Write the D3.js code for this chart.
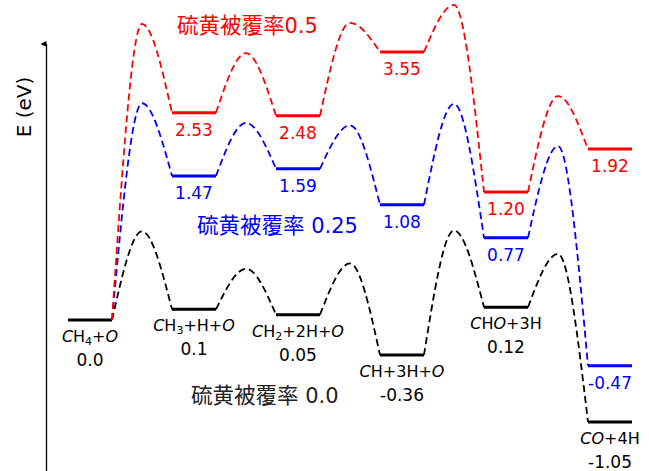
<!DOCTYPE html>
<html><head><meta charset="utf-8">
<script src="https://cdn.jsdelivr.net/npm/d3@7"></script>
<style>
html,body{margin:0;padding:0;background:#fff;}
svg{display:block;}
</style></head>
<body>
<svg id="chart" width="649" height="471"></svg>
<script>
// ---------- data ----------
const steps = ["CH4+O", "CH3+H+O", "CH2+2H+O", "CH+3H+O", "CHO+3H", "CO+4H"];
// intermediate energies (eV)
const black = [0.0, 0.1, 0.05, -0.36, 0.12, -1.05];
const blue  = [0.0, 1.47, 1.59, 1.08, 0.77, -0.47];
const red   = [0.0, 2.53, 2.48, 3.55, 1.20, 1.92];
// transition-state energies (eV)
const blackTS = [0.83, 0.48, 0.53, 0.84, 0.62];
const blueTS  = [2.69, 2.36, 2.32, 2.68, 1.97];
const redTS   = [4.02, 3.53, 4.04, 4.34, 2.81];
// printed labels
const blackLabels = ["0.0", "0.1", "0.05", "-0.36", "0.12", "-1.05"];
const blueLabels  = ["", "1.47", "1.59", "1.08", "0.77", "-0.47"];
const redLabels   = ["", "2.53", "2.48", "3.55", "1.20", "1.92"];
const seriesTitles = ["硫黄被覆率 0.0", "硫黄被覆率 0.25", "硫黄被覆率0.5"];

// ---------- layout ----------
const svg = d3.select("#chart");
const x = d3.scalePoint().domain(steps).range([90, 610]);
// schematic (not-to-scale) energy axis
const y = d3.scaleLinear().domain([-1.05, 0, 1.2, 3.55]).range([422, 320, 192, 52]);
const half = 22;
const numFont = "'DejaVu Sans', Verdana, sans-serif";
const cjkFont = "'Noto Sans CJK JP', 'Noto Sans CJK SC', sans-serif";

// y axis with arrow
svg.append("defs").append("marker")
  .attr("id", "arrow").attr("viewBox", "0 0 10 10")
  .attr("refX", 5).attr("refY", 10)
  .attr("markerWidth", 6).attr("markerHeight", 9)
  .attr("markerUnits", "userSpaceOnUse").attr("orient", "auto-start-reverse")
  .append("path").attr("d", "M0,10 L5,0 L10,10 Z").attr("fill", "#000");
const yAxisScale = d3.scaleLinear().domain([0, 1]).range([471, 44]);
svg.append("line")
  .attr("x1", 46.5).attr("x2", 46.5)
  .attr("y1", yAxisScale(0)).attr("y2", yAxisScale(1))
  .attr("stroke", "#000").attr("stroke-width", 1.3)
  .attr("marker-end", "url(#arrow)");
svg.append("text")
  .attr("transform", "translate(31,107) rotate(-90)")
  .attr("text-anchor", "middle")
  .attr("font-family", numFont).attr("font-size", 20)
  .attr("fill", "#000").text("E (eV)");

const line = d3.line().x(d => d[0]).y(d => d[1]).curve(d3.curveMonotoneX);

function drawSeries(vals, ts, color, labels, startIdx) {
  const g = svg.append("g");
  // dashed connectors
  for (let i = 0; i < vals.length - 1; i++) {
    const x0 = x(steps[i]) + half, x1 = x(steps[i + 1]) - half;
    const pts = [[x0, y(vals[i])], [(x0 + x1) / 2, y(ts[i])], [x1, y(vals[i + 1])]];
    g.append("path").attr("d", line(pts))
      .attr("fill", "none").attr("stroke", color)
      .attr("stroke-width", 1.8).attr("stroke-dasharray", "7,4");
  }
  // levels
  for (let i = startIdx; i < vals.length; i++) {
    g.append("line")
      .attr("x1", x(steps[i]) - half).attr("x2", x(steps[i]) + half)
      .attr("y1", y(vals[i])).attr("y2", y(vals[i]))
      .attr("stroke", color).attr("stroke-width", 3);
    if (labels[i]) {
      g.append("text")
        .attr("x", x(steps[i])).attr("y", y(vals[i]) + 23)
        .attr("text-anchor", "middle").attr("fill", color)
        .attr("font-family", numFont).attr("font-size", 17)
        .text(labels[i]);
    }
  }
}

drawSeries(black, blackTS, "#000", [], 0);
drawSeries(blue, blueTS, "#0000ff", blueLabels, 1);
drawSeries(red, redTS, "#ff0000", redLabels, 1);

// black species names + values
function speciesText(sel, name) {
  let pendingDy = 0;
  for (let k = 0; k < name.length; k++) {
    const c = name[k];
    const t = sel.append("tspan");
    if (pendingDy) { t.attr("dy", pendingDy); pendingDy = 0; }
    if (/\d/.test(c) && k > 0 && name[k - 1] === "H") {
      // subscript digit after H (not for "2H" etc.)
      t.attr("font-size", 11).attr("dy", 3).text(c);
      pendingDy = -3;
    } else if (c === "C" || c === "O") {
      t.attr("font-style", "italic").text(c);
    } else {
      t.text(c);
    }
  }
}
steps.forEach((s, i) => {
  const yy = y(black[i]);
  const t = svg.append("text")
    .attr("x", x(s)).attr("y", yy + 22)
    .attr("text-anchor", "middle").attr("fill", "#000")
    .attr("font-family", numFont).attr("font-size", 16);
  speciesText(t, s);
  svg.append("text")
    .attr("x", x(s)).attr("y", yy + 46)
    .attr("text-anchor", "middle").attr("fill", "#000")
    .attr("font-family", numFont).attr("font-size", 17)
    .text(blackLabels[i]);
});

// series titles
function title(str, color, xx, yy) {
  const t = svg.append("text").attr("x", xx).attr("y", yy).attr("fill", color);
  const m = str.match(/^([^\d\s]+)(\s?)(.*)$/);
  t.append("tspan").attr("font-family", cjkFont).attr("font-size", 21.5).text(m[1]);
  t.append("tspan").attr("font-family", numFont).attr("font-size", 21).text((m[2] ? "\u00a0" : "") + m[3]);
}
title(seriesTitles[0], "#222", 191, 403);
title(seriesTitles[1], "#0000ff", 197, 233);
title(seriesTitles[2], "#ff0000", 177, 33);
</script>
</body></html>
